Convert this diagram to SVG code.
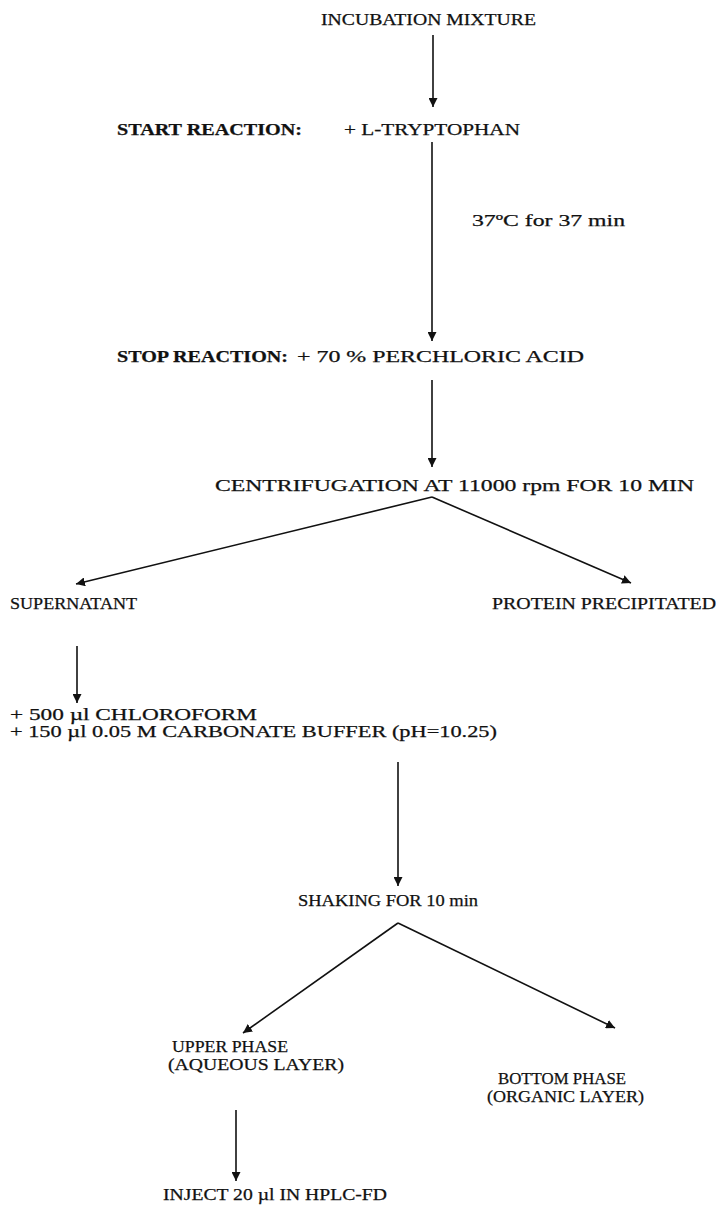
<svg xmlns="http://www.w3.org/2000/svg" width="724" height="1208" viewBox="0 0 724 1208">
<style>
text{font-family:"Liberation Serif","Times New Roman",serif;font-size:16.5px;fill:#111;stroke:#111;stroke-width:0.25}
.b{font-weight:bold}
.c line{stroke:#111;stroke-width:1.6}
</style>
<defs>
<marker id="ah" viewBox="0 0 10 10" refX="10" refY="5" markerWidth="9" markerHeight="9" markerUnits="userSpaceOnUse" orient="auto">
<path d="M0,0 L10,5 L0,10 z" fill="#111"/>
</marker>
</defs>
<rect width="724" height="1208" fill="#fff"/>
<g class="c">
<line x1="433" y1="35" x2="433" y2="107" marker-end="url(#ah)"/>
<line x1="432" y1="142" x2="432" y2="341" marker-end="url(#ah)"/>
<line x1="432" y1="380" x2="432" y2="467" marker-end="url(#ah)"/>
<line x1="432" y1="497" x2="76" y2="584" marker-end="url(#ah)"/>
<line x1="432" y1="497" x2="631" y2="583" marker-end="url(#ah)"/>
<line x1="77" y1="646" x2="77" y2="703" marker-end="url(#ah)"/>
<line x1="398" y1="762" x2="398" y2="886" marker-end="url(#ah)"/>
<line x1="398" y1="923" x2="243" y2="1033" marker-end="url(#ah)"/>
<line x1="398" y1="923" x2="615" y2="1028" marker-end="url(#ah)"/>
<line x1="236" y1="1110" x2="236" y2="1181" marker-end="url(#ah)"/>
</g>
<g id="incubation"><text x="321" y="25" textLength="215" lengthAdjust="spacingAndGlyphs">INCUBATION MIXTURE</text></g>
<g id="start"><text class="b" x="117" y="135" textLength="185" lengthAdjust="spacingAndGlyphs">START REACTION:</text>
<text x="344" y="135" textLength="176" lengthAdjust="spacingAndGlyphs">+ L-TRYPTOPHAN</text></g>
<g id="temp"><text x="472" y="226" textLength="153" lengthAdjust="spacingAndGlyphs">37ºC for 37 min</text></g>
<g id="stop"><text class="b" x="117" y="362" textLength="171" lengthAdjust="spacingAndGlyphs">STOP REACTION:</text>
<text x="297" y="362" textLength="287" lengthAdjust="spacingAndGlyphs">+ 70 % PERCHLORIC ACID</text></g>
<g id="centrifugation"><text x="215" y="491" textLength="479" lengthAdjust="spacingAndGlyphs">CENTRIFUGATION AT 11000 rpm FOR 10 MIN</text></g>
<g id="supernatant"><text x="10" y="609" textLength="127" lengthAdjust="spacingAndGlyphs">SUPERNATANT</text></g>
<g id="protein"><text x="492" y="609" textLength="224" lengthAdjust="spacingAndGlyphs">PROTEIN PRECIPITATED</text></g>
<g id="additions"><text x="10" y="720" textLength="247" lengthAdjust="spacingAndGlyphs">+ 500 µl  CHLOROFORM</text>
<text x="10" y="737" textLength="487" lengthAdjust="spacingAndGlyphs">+ 150 µl  0.05 M CARBONATE BUFFER (pH=10.25)</text></g>
<g id="shaking"><text x="298" y="906" textLength="180" lengthAdjust="spacingAndGlyphs">SHAKING FOR 10 min</text></g>
<g id="upper"><text x="172" y="1052" textLength="116" lengthAdjust="spacingAndGlyphs">UPPER PHASE</text>
<text x="168" y="1070" textLength="176" lengthAdjust="spacingAndGlyphs">(AQUEOUS LAYER)</text></g>
<g id="bottom"><text x="498" y="1084" textLength="128" lengthAdjust="spacingAndGlyphs">BOTTOM PHASE</text>
<text x="487" y="1102" textLength="157" lengthAdjust="spacingAndGlyphs">(ORGANIC LAYER)</text></g>
<g id="inject"><text x="163" y="1200" textLength="224" lengthAdjust="spacingAndGlyphs">INJECT 20 µl IN HPLC-FD</text></g>
</svg>
